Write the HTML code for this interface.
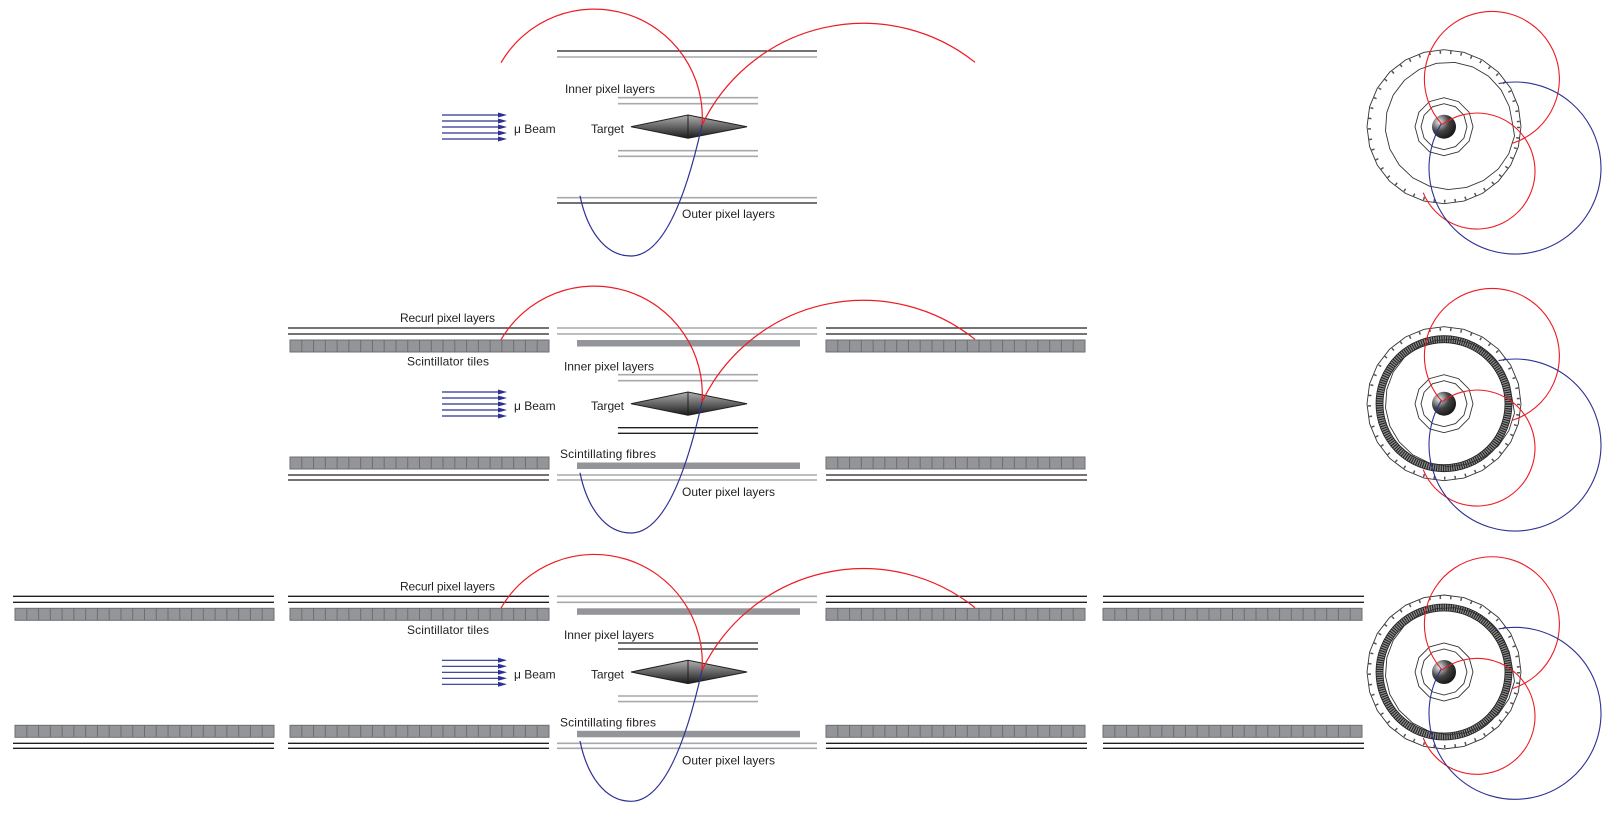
<!DOCTYPE html>
<html><head><meta charset="utf-8"><style>
html,body{margin:0;padding:0;background:#fff;}
svg{display:block;}
text{font-family:"Liberation Sans",sans-serif;font-size:12px;fill:#231f20;}
</style></head><body>
<svg width="1612" height="815" viewBox="0 0 1612 815" xmlns="http://www.w3.org/2000/svg">
<defs>
<linearGradient id="dg" x1="0" y1="0" x2="0" y2="1">
<stop offset="0" stop-color="#b0b0b0"/><stop offset="1" stop-color="#1a1a1a"/>
</linearGradient>
<radialGradient id="bg" cx="0.3" cy="0.3" r="0.8">
<stop offset="0" stop-color="#e8e8e8"/><stop offset="0.5" stop-color="#444"/><stop offset="1" stop-color="#111"/>
</radialGradient>
<g id="tl">
<rect x="0" y="0" width="259" height="12" fill="#939598" stroke="#6d6e71" stroke-width="1"/>
<line x1="11.3" y1="6" x2="258" y2="6" stroke="#6d6e71" stroke-width="12" stroke-dasharray="1 10.77"/>
</g>
<g id="beam" stroke="#2e3192" stroke-width="1.2" fill="#2e3192">
<line x1="442" y1="115" x2="503" y2="115"/><line x1="442" y1="121" x2="503" y2="121"/>
<line x1="442" y1="127" x2="503" y2="127"/><line x1="442" y1="133" x2="503" y2="133"/>
<line x1="442" y1="139" x2="503" y2="139"/>
<path d="M498,112.5 L507,115 L498,117.5Z M498,118.5 L507,121 L498,123.5Z M498,124.5 L507,127 L498,129.5Z M498,130.5 L507,133 L498,135.5Z M498,136.5 L507,139 L498,141.5Z" stroke="none"/>
</g>
<g id="tgt">
<path d="M631,126.7 L688,115 L747,126.7 L688,138.3Z" fill="url(#dg)" stroke="#231f20" stroke-width="1"/>
<line x1="688" y1="115" x2="688" y2="138.3" stroke="#231f20" stroke-width="1"/>
</g>
<g id="curves" fill="none" stroke-width="1.2">
<path d="M501,62.7 A108,108 0 0 1 702,125" stroke="#ed1c24"/>
<path d="M702,125 A179,179 0 0 1 975,62.3" stroke="#ed1c24"/>
<path d="M702,125 C692,170 670,256 631,256 C605,256 587,230 580,195.7" stroke="#2e3192"/>
</g>
<g id="circ" fill="none">
<polygon points="1521,126.7 1518.4,146.6 1510.7,165.2 1498.4,181.2 1482.5,193.4 1463.9,201.1 1444,203.7 1424.1,201.1 1405.5,193.4 1389.6,181.2 1377.3,165.2 1369.6,146.6 1367,126.7 1369.6,106.8 1377.3,88.2 1389.6,72.2 1405.5,60 1424.1,52.3 1444,49.7 1463.9,52.3 1482.5,60 1498.4,72.2 1510.7,88.2 1518.4,106.8" stroke="#333" stroke-width="0.9"/>
<polygon points="1514.5,136 1508.8,153.7 1498.3,169 1483.7,180.4 1466.5,187.4 1448,189.6 1429.6,186.2 1412.9,177.9 1399.2,165 1389.8,149 1385.5,131 1386.8,112.5 1393.2,95.1 1404.4,80.3 1419.1,69.5 1436.4,63.3 1454.9,62.4 1472.7,66.9 1488.6,76.2 1501.1,89.9 1509.3,106.6 1512.7,124.8" stroke="#333" stroke-width="0.9"/>
<circle cx="1444" cy="126.7" r="74.5" stroke="#555" stroke-width="3" stroke-dasharray="1.5 9"/>
<polygon points="1473,126.7 1469.1,141.2 1458.5,151.8 1444,155.7 1429.5,151.8 1418.9,141.2 1415,126.7 1418.9,112.2 1429.5,101.6 1444,97.7 1458.5,101.6 1469.1,112.2" stroke="#333" stroke-width="0.9"/>
<polygon points="1467,126.7 1463.9,138.2 1455.5,146.6 1444,149.7 1432.5,146.6 1424.1,138.2 1421,126.7 1424.1,115.2 1432.5,106.8 1444,103.7 1455.5,106.8 1463.9,115.2" stroke="#333" stroke-width="0.9"/>
<circle cx="1444" cy="126.7" r="12" fill="url(#bg)"/>
<path d="M1441.8,124.2 A67.5,67.5 0 1 1 1511.7,143.5" stroke="#ed1c24" stroke-width="1.1"/>
<path d="M1442.1,124.7 A58,58 0 1 1 1423.2,192.7" stroke="#ed1c24" stroke-width="1.1"/>
<path d="M1498.6,83.6 A86,86 0 1 1 1441.3,123.7" stroke="#2e3192" stroke-width="1.1"/>
</g>
<g id="fring" fill="none">
<circle cx="1444" cy="126.7" r="64.5" stroke="#8a8a8a" stroke-width="7"/>
<circle cx="1444" cy="126.7" r="64.5" stroke="#1e1e1e" stroke-width="7" stroke-dasharray="1 1.3"/>
<circle cx="1444" cy="126.7" r="61" stroke="#222" stroke-width="0.8"/>
<circle cx="1444" cy="126.7" r="68" stroke="#222" stroke-width="0.8"/>
</g>
</defs>

<!-- Panel 1 -->
<g>
<line x1="557" y1="51" x2="817" y2="51" stroke="#231f20" stroke-width="1.3"/>
<line x1="557" y1="57" x2="817" y2="57" stroke="#a7a9ac" stroke-width="1.6"/>
<line x1="618" y1="97.7" x2="758" y2="97.7" stroke="#a7a9ac" stroke-width="1.6"/>
<line x1="618" y1="103.7" x2="758" y2="103.7" stroke="#a7a9ac" stroke-width="1.6"/>
<line x1="618" y1="150.7" x2="758" y2="150.7" stroke="#a7a9ac" stroke-width="1.6"/>
<line x1="618" y1="156.3" x2="758" y2="156.3" stroke="#a7a9ac" stroke-width="1.6"/>
<line x1="557" y1="197.7" x2="817" y2="197.7" stroke="#a7a9ac" stroke-width="1.6"/>
<line x1="557" y1="203" x2="817" y2="203" stroke="#231f20" stroke-width="1.3"/>
<use href="#beam"/><use href="#tgt"/>
<text x="565" y="93" textLength="90">Inner pixel layers</text>
<text x="514" y="133">μ Beam</text>
<text x="591" y="133" textLength="33">Target</text>
<text x="682" y="218" textLength="93">Outer pixel layers</text>
<use href="#curves"/>
<use href="#circ"/>
</g>

<!-- Panel 2 -->
<g transform="translate(0,277)">
<g stroke="#231f20" stroke-width="1.3">
<line x1="288" y1="51" x2="549" y2="51"/><line x1="288" y1="57" x2="549" y2="57"/>
<line x1="288" y1="198" x2="549" y2="198"/><line x1="288" y1="203" x2="549" y2="203"/>
<line x1="826" y1="51" x2="1087" y2="51"/><line x1="826" y1="57" x2="1087" y2="57"/>
<line x1="826" y1="198" x2="1087" y2="198"/><line x1="826" y1="203" x2="1087" y2="203"/>
<line x1="618" y1="150.7" x2="758" y2="150.7"/><line x1="618" y1="156.3" x2="758" y2="156.3"/>
</g>
<g stroke="#a7a9ac" stroke-width="1.6">
<line x1="557" y1="51" x2="817" y2="51"/><line x1="557" y1="57" x2="817" y2="57"/>
<line x1="557" y1="198" x2="817" y2="198"/><line x1="557" y1="203" x2="817" y2="203"/>
<line x1="618" y1="97.7" x2="758" y2="97.7"/><line x1="618" y1="103.7" x2="758" y2="103.7"/>
</g>
<rect x="577" y="63" width="223" height="6.5" fill="#939598"/>
<rect x="577" y="185.5" width="223" height="6.5" fill="#939598"/>
<use href="#tl" x="290" y="63"/><use href="#tl" x="290" y="180"/>
<use href="#tl" x="826" y="63"/><use href="#tl" x="826" y="180"/>
<use href="#beam"/><use href="#tgt"/>
<text x="400" y="45" textLength="95">Recurl pixel layers</text>
<text x="407" y="88.5" textLength="82">Scintillator tiles</text>
<text x="564" y="93.5" textLength="90">Inner pixel layers</text>
<text x="514" y="133">μ Beam</text>
<text x="591" y="133" textLength="33">Target</text>
<text x="560" y="181" textLength="96">Scintillating fibres</text>
<text x="682" y="219" textLength="93">Outer pixel layers</text>
<use href="#curves"/>
<use href="#fring"/>
<use href="#circ"/>
</g>

<!-- Panel 3 -->
<g transform="translate(0,545.3)">
<g stroke="#231f20" stroke-width="1.3">
<line x1="13" y1="51" x2="274" y2="51"/><line x1="13" y1="57" x2="274" y2="57"/>
<line x1="13" y1="198" x2="274" y2="198"/><line x1="13" y1="203" x2="274" y2="203"/>
<line x1="288" y1="51" x2="549" y2="51"/><line x1="288" y1="57" x2="549" y2="57"/>
<line x1="288" y1="198" x2="549" y2="198"/><line x1="288" y1="203" x2="549" y2="203"/>
<line x1="826" y1="51" x2="1087" y2="51"/><line x1="826" y1="57" x2="1087" y2="57"/>
<line x1="826" y1="198" x2="1087" y2="198"/><line x1="826" y1="203" x2="1087" y2="203"/>
<line x1="1103" y1="51" x2="1364" y2="51"/><line x1="1103" y1="57" x2="1364" y2="57"/>
<line x1="1103" y1="198" x2="1364" y2="198"/><line x1="1103" y1="203" x2="1364" y2="203"/>
<line x1="618" y1="97.7" x2="758" y2="97.7"/><line x1="618" y1="103.7" x2="758" y2="103.7"/>
</g>
<g stroke="#a7a9ac" stroke-width="1.6">
<line x1="557" y1="51" x2="817" y2="51"/><line x1="557" y1="57" x2="817" y2="57"/>
<line x1="557" y1="198" x2="817" y2="198"/><line x1="557" y1="203" x2="817" y2="203"/>
<line x1="618" y1="150.7" x2="758" y2="150.7"/><line x1="618" y1="156.3" x2="758" y2="156.3"/>
</g>
<rect x="577" y="63" width="223" height="6.5" fill="#939598"/>
<rect x="577" y="185.5" width="223" height="6.5" fill="#939598"/>
<use href="#tl" x="15" y="63"/><use href="#tl" x="15" y="180"/>
<use href="#tl" x="290" y="63"/><use href="#tl" x="290" y="180"/>
<use href="#tl" x="826" y="63"/><use href="#tl" x="826" y="180"/>
<use href="#tl" x="1103" y="63"/><use href="#tl" x="1103" y="180"/>
<use href="#beam"/><use href="#tgt"/>
<text x="400" y="45" textLength="95">Recurl pixel layers</text>
<text x="407" y="88.5" textLength="82">Scintillator tiles</text>
<text x="564" y="93.5" textLength="90">Inner pixel layers</text>
<text x="514" y="133">μ Beam</text>
<text x="591" y="133" textLength="33">Target</text>
<text x="560" y="181" textLength="96">Scintillating fibres</text>
<text x="682" y="219" textLength="93">Outer pixel layers</text>
<use href="#curves"/>
<use href="#fring"/>
<use href="#circ"/>
</g>
</svg>
</body></html>
